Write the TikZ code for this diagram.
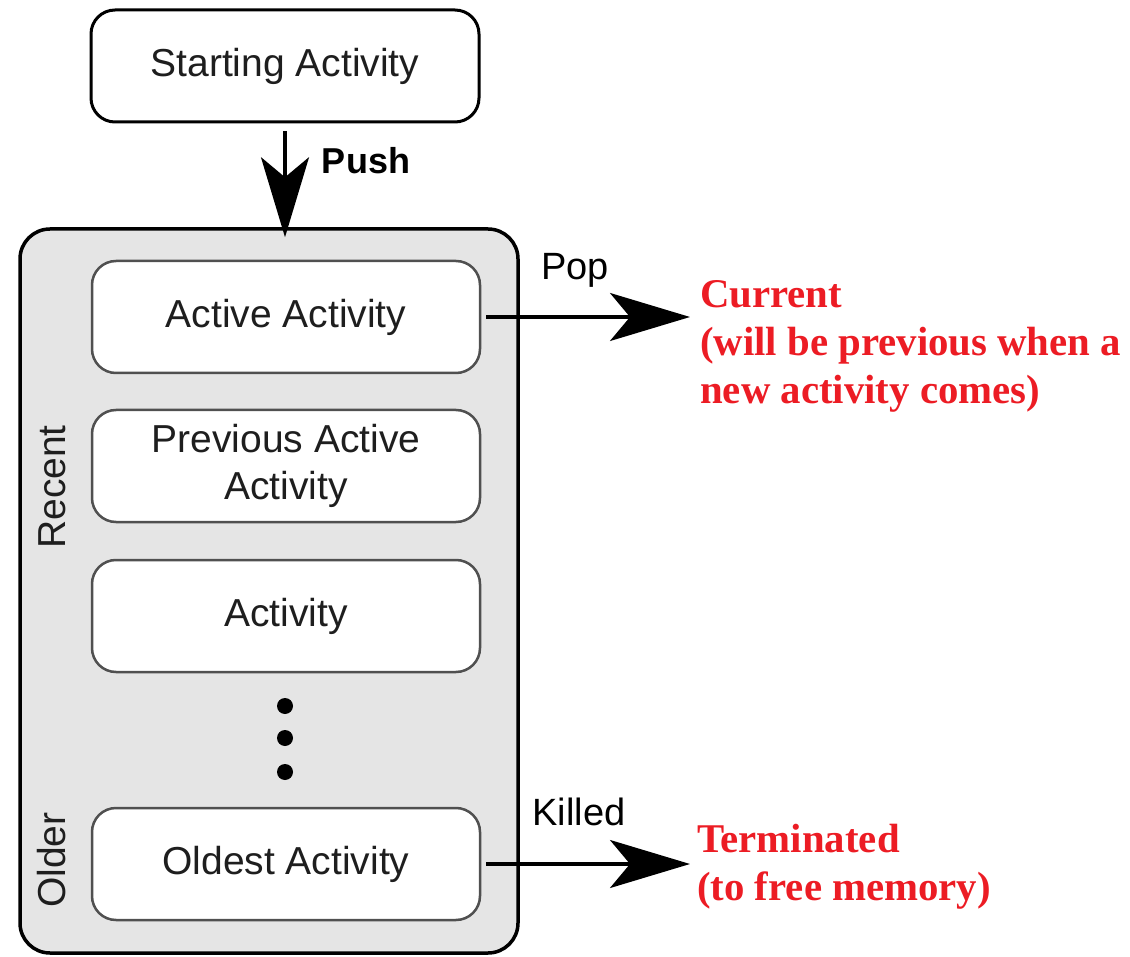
\documentclass[tikz,border=0pt]{standalone}
\usepackage{fontspec}
\setmainfont{Liberation Sans}
\newfontfamily\notefont{Liberation Serif}
\usetikzlibrary{arrows.meta}
\definecolor{stackfill}{RGB}{229,229,229}
\definecolor{boxline}{RGB}{80,80,80}
\definecolor{notered}{RGB}{236,28,36}
\definecolor{ink}{RGB}{30,30,30}
\tikzset{
  activitybox/.style={draw=boxline, line width=2.5pt, fill=white, rounded corners=24pt,
    minimum width=388pt, minimum height=112pt, align=center, text=ink,
    font=\fontsize{39}{47}\selectfont, inner sep=0pt},
  startbox/.style={activitybox, draw=black, line width=3pt},
  stackbox/.style={draw=black, line width=3.5pt, fill=stackfill, rounded corners=30pt,
    minimum width=498pt, minimum height=724pt, inner sep=0pt},
  sidelabel/.style={rotate=90, text=ink, font=\fontsize{39}{47}\selectfont, inner sep=0pt},
  arrowlabel/.style={text=black, font=\fontsize{38}{45}\selectfont, inner sep=0pt},
  note/.style={text=notered, font=\notefont\bfseries\fontsize{40.8}{48}\selectfont,
    align=left, inner sep=0pt, anchor=north west},
  bigarrow/.style={draw=black, line width=3.2pt,
    -{Stealth[length=80pt, width=48pt, inset=20pt]}},
  stackdot/.style={circle, fill=black, minimum size=16pt, inner sep=0pt}
}
\begin{document}
\begin{tikzpicture}[x=1pt, y=-1pt]
\useasboundingbox (0,0) rectangle (1130,957);

% the task stack and its entries
\node[stackbox] (stack) at (269,591) {};
\node[startbox] (start) at (285,66) {Starting Activity};
\node[activitybox] (active) at (286,317) {Active Activity};
\node[activitybox] (previous) at (286,466) {Previous Active\\Activity};
\node[activitybox] (activity) at (286,616) {Activity};
\node[activitybox] (oldest) at (286,864) {Oldest Activity};

\node[stackdot] (dotA) at (285,706) {};
\node[stackdot] (dotB) at (285,738) {};
\node[stackdot] (dotC) at (285,772) {};

\node[sidelabel] (recent) at (52,487) {Recent};
\node[sidelabel] (older) at (52,860) {Older};

% push onto the stack
\draw[bigarrow, shorten <=8pt, shorten >=-10pt] (start.south) -- (start.south |- stack.north);
\node[arrowlabel, font=\bfseries\fontsize{36}{43}\selectfont] (push) at (366,161) {Push};

% pop and kill
\coordinate (popend) at (690,317);
\coordinate (killend) at (690,864);
\draw[bigarrow, shorten <=5pt] (active.east) -- (popend);
\draw[bigarrow, shorten <=5pt] (oldest.east) -- (killend);
\node[arrowlabel] (pop) at (575,270) {Pop};
\node[arrowlabel] (killed) at (579,812) {Killed};

% notes
\node[note] (current) at (700,280) {Current\\(will be previous when a\\new activity comes)};
\node[note] (terminated) at (697,824) {Terminated\\(to free memory)};
\end{tikzpicture}
\end{document}
